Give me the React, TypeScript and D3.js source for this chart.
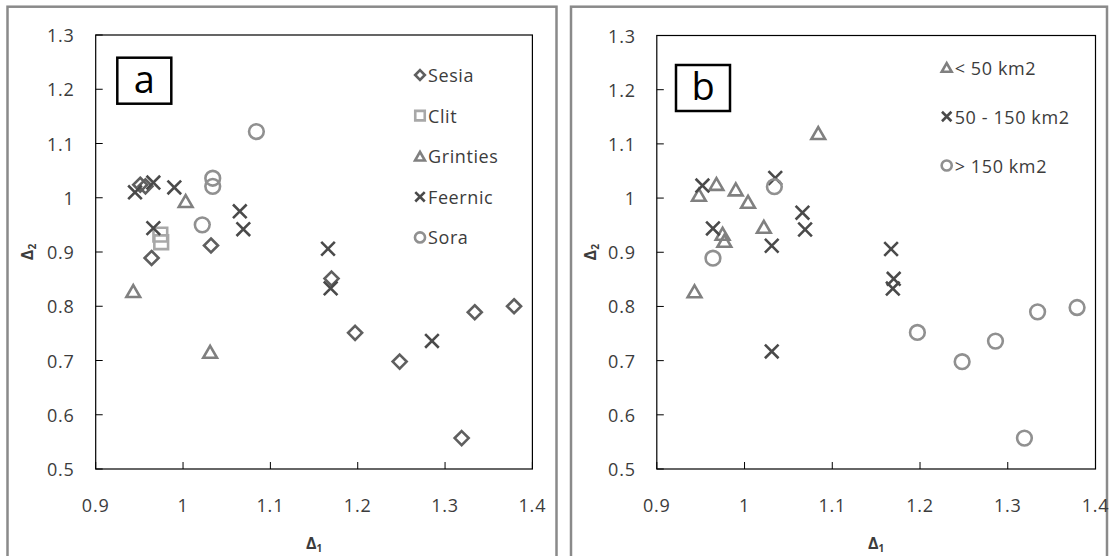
import * as d3 from "d3";

// panel a: river basins
const sesia = [
  [0.951, 1.024], [0.957, 1.021], [0.964, 0.889], [1.032, 0.912], [1.17, 0.851],
  [1.197, 0.751], [1.248, 0.698], [1.334, 0.789], [1.379, 0.8], [1.319, 0.557],
];
const clit = [[0.974, 0.932], [0.975, 0.918]];
const grinties = [[1.003, 0.994], [0.943, 0.828], [1.031, 0.716]];
const feernic = [
  [0.945, 1.01], [0.966, 1.028], [0.99, 1.019], [0.966, 0.944], [1.065, 0.975],
  [1.069, 0.942], [1.166, 0.906], [1.169, 0.833], [1.285, 0.736],
];
const sora = [[1.084, 1.122], [1.034, 1.036], [1.034, 1.021], [1.022, 0.95]];

// panel b: catchment area classes
const small = [
  [0.948, 1.006], [0.968, 1.026], [0.99, 1.016], [1.004, 0.993], [1.022, 0.947],
  [0.975, 0.934], [0.977, 0.921], [0.943, 0.828], [1.084, 1.12],
];
const medium = [
  [0.952, 1.023], [0.964, 0.944], [1.035, 1.037], [1.031, 0.912], [1.031, 0.717],
  [1.066, 0.973], [1.069, 0.942], [1.167, 0.906], [1.17, 0.851], [1.169, 0.833],
];
const large = [
  [1.034, 1.021], [0.964, 0.889], [1.197, 0.752], [1.248, 0.698], [1.286, 0.736],
  [1.334, 0.79], [1.379, 0.798], [1.319, 0.557],
];

const xDomain = [0.9, 1.4];
const yDomain = [0.5, 1.3];

const FONT = "'Open Sans', 'Noto Sans', sans-serif";
const TEXT = "#3c3c3c";

const shapes = {
  diamond: { type: d3.symbolDiamond2, size: 125, legend: 60 },
  square: { type: d3.symbolSquare2, size: 240, legend: 115 },
  triangle: { type: d3.symbolTriangle2, size: 135, legend: 70 },
  times: { type: d3.symbolTimes, size: 123, legend: 60 },
  circle: { type: d3.symbolCircle, size: 170, legend: 80 },
};

function Marker({ shape, color, x, y, legend = false }) {
  const s = shapes[shape];
  const size = legend ? s.legend : s.size;
  const path = d3.symbol().type(s.type).size(size)();
  // triangle: center on its bounding box, like the spreadsheet markers
  const dy = shape === "triangle" ? (Math.sqrt(size) * 0.6824) / 4 : 0;
  return (
    <path
      d={path}
      transform={`translate(${x},${y + dy})`}
      fill="none"
      stroke={color}
      strokeWidth={2.6}
    />
  );
}

function Panel({ frame, plot, series, legend, label }) {
  const xScale = d3.scaleLinear().domain(xDomain).range([plot.left, plot.right]);
  const yScale = d3.scaleLinear().domain(yDomain).range([plot.bottom, plot.top]);
  const fmt = (d) => String(+d.toFixed(2));
  const cx = (plot.left + plot.right) / 2;
  const cy = (plot.top + plot.bottom) / 2;

  return (
    <g>
      <rect
        x={frame.left}
        y={frame.top}
        width={frame.right - frame.left}
        height={600}
        fill="white"
        stroke="#8a8a8a"
        strokeWidth={2.5}
      />
      <rect
        x={plot.left}
        y={plot.top}
        width={plot.right - plot.left}
        height={plot.bottom - plot.top}
        fill="none"
        stroke="#000"
        strokeWidth={1.2}
      />
      {yScale.ticks(8).map((t, i) => (
        <g key={"y" + i}>
          <line x1={plot.left} x2={plot.left + 7} y1={yScale(t)} y2={yScale(t)} stroke="#000" />
          <text
            x={plot.left - 21}
            y={yScale(t)}
            textAnchor="end"
            dominantBaseline="central"
            fontSize={18}
            letterSpacing={0.8}
            fill={TEXT}
          >
            {fmt(t)}
          </text>
        </g>
      ))}
      {xScale.ticks(5).map((t, i) => (
        <g key={"x" + i}>
          <line x1={xScale(t)} x2={xScale(t)} y1={plot.bottom} y2={plot.bottom - 7} stroke="#000" />
          <text
            x={xScale(t)}
            y={512}
            textAnchor="middle"
            fontSize={18}
            letterSpacing={0.8}
            fill={TEXT}
          >
            {fmt(t)}
          </text>
        </g>
      ))}
      <text x={cx} y={549} textAnchor="middle" fontSize={16} fontWeight="bold" fill={TEXT}>
        Δ<tspan fontSize={10} dy={3}>1</tspan>
      </text>
      <text
        transform={`translate(${frame.left + 25},${cy}) rotate(-90)`}
        textAnchor="middle"
        fontSize={16}
        fontWeight="bold"
        fill={TEXT}
      >
        Δ<tspan fontSize={10} dy={3}>2</tspan>
      </text>

      <rect
        x={label.x}
        y={label.y}
        width={54}
        height={46}
        fill="white"
        stroke="#000"
        strokeWidth={2.5}
      />
      <text
        x={label.x + 27}
        y={label.y + 35}
        textAnchor="middle"
        fontSize={38}
        fill="#000"
      >
        {label.text}
      </text>

      {series.map((s, si) =>
        s.data.map((d, i) => (
          <Marker
            key={si + "-" + i}
            shape={s.shape}
            color={s.color}
            x={xScale(d[0])}
            y={yScale(d[1])}
          />
        ))
      )}

      {series.map((s, i) => (
        <g key={"l" + i}>
          <Marker
            shape={s.shape}
            color={s.color}
            x={legend.x}
            y={legend.y + i * legend.step}
            legend
          />
          <text
            x={legend.x + 8}
            y={legend.y + i * legend.step}
            dominantBaseline="central"
            fontSize={18}
            letterSpacing={0.6}
            fill={TEXT}
          >
            {s.name}
          </text>
        </g>
      ))}
    </g>
  );
}

export default function App() {
  const seriesA = [
    { name: "Sesia", data: sesia, shape: "diamond", color: "#5f5f5f" },
    { name: "Clit", data: clit, shape: "square", color: "#a8a8a8" },
    { name: "Grinties", data: grinties, shape: "triangle", color: "#808080" },
    { name: "Feernic", data: feernic, shape: "times", color: "#4a4a4a" },
    { name: "Sora", data: sora, shape: "circle", color: "#909090" },
  ];
  const seriesB = [
    { name: "< 50 km2", data: small, shape: "triangle", color: "#808080" },
    { name: "50 - 150 km2", data: medium, shape: "times", color: "#4a4a4a" },
    { name: "> 150 km2", data: large, shape: "circle", color: "#909090" },
  ];

  return (
    <svg
      width={1113}
      height={556}
      style={{ position: "absolute", left: 0, top: 0, background: "white", fontFamily: FONT }}
    >
      <Panel
        frame={{ left: 7.5, right: 556.5, top: 6.7 }}
        plot={{ left: 95.7, right: 532.4, top: 35, bottom: 469 }}
        series={seriesA}
        legend={{ x: 420, y: 75, step: 40.6 }}
        label={{ x: 117.3, y: 57.7, text: "a" }}
      />
      <Panel
        frame={{ left: 571, right: 1107, top: 6.7 }}
        plot={{ left: 656.8, right: 1095.5, top: 35.5, bottom: 469 }}
        series={seriesB}
        legend={{ x: 946.7, y: 67.5, step: 49 }}
        label={{ x: 676, y: 65, text: "b" }}
      />
    </svg>
  );
}
